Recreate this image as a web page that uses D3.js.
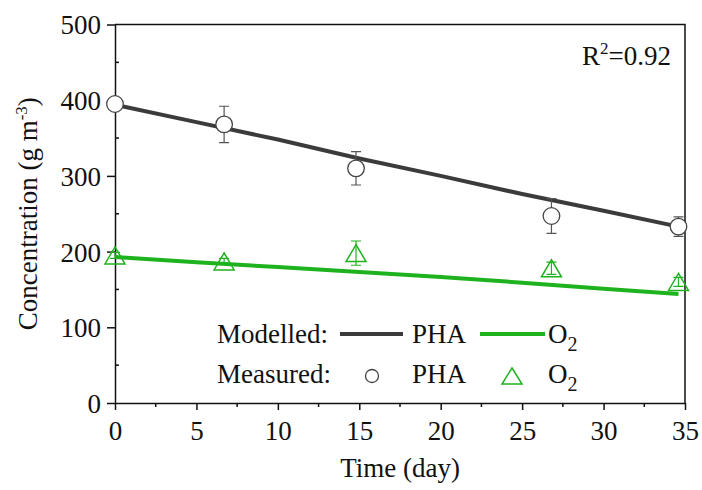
<!DOCTYPE html>
<html>
<head>
<meta charset="utf-8">
<script src="https://cdn.jsdelivr.net/npm/d3@7"></script>
<style>
  body { margin: 0; background: #fff; }
  text { font-family: "Liberation Serif", "Times New Roman", serif; fill: #111; }
</style>
</head>
<body>
<div id="chart"></div>
<script>
// Measured points (day, value, error)
const days = [0, 6.7, 14.8, 26.8, 34.6];
const phaMeasured = [395, 368, 310, 247, 233];
const phaErr = [4, 24, 22, 23, 13];
const o2Measured = [195, 187, 198, 178, 160];
const o2Err = [4, 4, 16, 8, 6];

// Modelled curves
const modelDays = [0, 5, 10, 15, 20, 25, 30, 34.6];
const phaModel = [394, 371, 348, 323, 300, 276, 254, 233];
const o2Model = [193, 186, 179.5, 173, 166.5, 159, 151, 144];

// Ticks
const xTicks = [0, 5, 10, 15, 20, 25, 30, 35];
const yTicks = [0, 100, 200, 300, 400, 500];

const width = 702, height = 490;
const margin = { top: 24.5, right: 17, bottom: 87, left: 115 };
const green = '#1fb21f';
const dark = '#3b3b3b';

const svg = d3.select('#chart')
    .append('svg')
    .attr('width', width)
    .attr('height', height);

const x = d3.scaleLinear().domain([0, 35]).range([margin.left, width - margin.right]);
const y = d3.scaleLinear().domain([0, 500]).range([height - margin.bottom, margin.top]);

// frame (top and right)
svg.append('path')
    .attr('d', `M${x(0)},${y(500)}H${x(35)}V${y(0)}`)
    .attr('fill', 'none')
    .attr('stroke', '#111')
    .attr('stroke-width', 1.5);

// axes
const xAxis = svg.append('g')
    .attr('transform', `translate(0,${y(0)})`)
    .call(d3.axisBottom(x).tickValues(xTicks).tickSize(7).tickPadding(6).tickSizeOuter(0));
const yAxis = svg.append('g')
    .attr('transform', `translate(${x(0)},0)`)
    .call(d3.axisLeft(y).tickValues(yTicks).tickSize(8).tickPadding(6).tickSizeOuter(0));

[xAxis, yAxis].forEach(g => {
    g.select('.domain').attr('stroke', '#111').attr('stroke-width', 1.5);
    g.selectAll('.tick line').attr('stroke', '#111').attr('stroke-width', 1.5);
    g.selectAll('.tick text')
        .attr('font-family', '"Liberation Serif", serif')
        .attr('font-size', 27)
        .attr('fill', '#111');
});
xAxis.selectAll('.tick text').attr('dy', '0.9em');
yAxis.selectAll('.tick text').attr('dy', '0.35em');

// minor ticks
const xMinor = d3.range(2.5, 35, 5);
const yMinor = d3.range(50, 500, 100);
svg.selectAll('.xminor')
    .data(xMinor)
    .enter()
    .append('line')
    .attr('x1', d => x(d)).attr('x2', d => x(d))
    .attr('y1', y(0)).attr('y2', y(0) + 4)
    .attr('stroke', '#111').attr('stroke-width', 1.5);
svg.selectAll('.yminor')
    .data(yMinor)
    .enter()
    .append('line')
    .attr('x1', x(0)).attr('x2', x(0) + 4)
    .attr('y1', d => y(d)).attr('y2', d => y(d))
    .attr('stroke', '#111').attr('stroke-width', 1.5);

// axis titles
svg.append('text')
    .attr('x', (x(0) + x(35)) / 2)
    .attr('y', 477)
    .attr('text-anchor', 'middle')
    .attr('font-size', 27)
    .text('Time (day)');

const yTitle = svg.append('text')
    .attr('transform', `translate(37,${(y(0) + y(500)) / 2}) rotate(-90)`)
    .attr('text-anchor', 'middle')
    .attr('font-size', 27);
yTitle.append('tspan').text('Concentration (g m');
yTitle.append('tspan').attr('font-size', 17).attr('dy', -10).text('-3');
yTitle.append('tspan').attr('dy', 10).text(')');

// model lines
const line = d3.line().x(d => x(d[0])).y(d => y(d[1]));
svg.append('path')
    .datum(modelDays.map((d, i) => [d, phaModel[i]]))
    .attr('d', line)
    .attr('fill', 'none')
    .attr('stroke', dark)
    .attr('stroke-width', 4);
svg.append('path')
    .datum(modelDays.map((d, i) => [d, o2Model[i]]))
    .attr('d', line)
    .attr('fill', 'none')
    .attr('stroke', green)
    .attr('stroke-width', 4);

// error bars
function errorBars(vals, errs, color) {
    const g = svg.append('g').attr('stroke', color).attr('stroke-width', 1.2).attr('fill', 'none');
    days.forEach((d, i) => {
        const cx = x(d), top = y(vals[i] + errs[i]), bot = y(vals[i] - errs[i]);
        g.append('path').attr('d', `M${cx},${top}V${bot}M${cx - 5},${top}H${cx + 5}M${cx - 5},${bot}H${cx + 5}`);
    });
}
errorBars(phaMeasured, phaErr, '#555');

// measured PHA circles
svg.selectAll('.pha')
    .data(days)
    .enter()
    .append('circle')
    .attr('cx', d => x(d))
    .attr('cy', (d, i) => y(phaMeasured[i]))
    .attr('r', 8.3)
    .attr('fill', '#fff')
    .attr('stroke', '#444')
    .attr('stroke-width', 1.3);

// measured O2 triangles
const tri = (w, h) => `M0,${-h / 2}L${w / 2},${h / 2}L${-w / 2},${h / 2}Z`;
errorBars(o2Measured, o2Err, green);
svg.selectAll('.o2')
    .data(days)
    .enter()
    .append('path')
    .attr('d', tri(20, 17))
    .attr('transform', (d, i) => `translate(${x(d)},${y(o2Measured[i])})`)
    .attr('fill', 'none')
    .attr('stroke', green)
    .attr('stroke-width', 1.5);

// R^2 annotation
const r2 = svg.append('text')
    .attr('x', 671)
    .attr('y', 65)
    .attr('text-anchor', 'end')
    .attr('font-size', 27);
r2.append('tspan').text('R');
r2.append('tspan').attr('font-size', 17).attr('dy', -11).text('2');
r2.append('tspan').attr('dy', 11).text('=0.92');

// legend
const legend = svg.append('g');
legend.append('text').attr('x', 217).attr('y', 343).attr('font-size', 27).text('Modelled:');
legend.append('text').attr('x', 217).attr('y', 383).attr('font-size', 27).text('Measured:');
legend.append('line').attr('x1', 340).attr('x2', 403).attr('y1', 334).attr('y2', 334)
    .attr('stroke', dark).attr('stroke-width', 4);
legend.append('line').attr('x1', 480).attr('x2', 545).attr('y1', 334).attr('y2', 334)
    .attr('stroke', green).attr('stroke-width', 4);
legend.append('circle').attr('cx', 372).attr('cy', 376).attr('r', 6.5)
    .attr('fill', '#fff').attr('stroke', '#444').attr('stroke-width', 1.3);
legend.append('path').attr('d', tri(20, 16)).attr('transform', 'translate(512,376)')
    .attr('fill', 'none').attr('stroke', green).attr('stroke-width', 1.5);
[343, 383].forEach(yy => {
    legend.append('text').attr('x', 412).attr('y', yy).attr('font-size', 27).text('PHA');
    const t = legend.append('text').attr('x', 548).attr('y', yy).attr('font-size', 27);
    t.append('tspan').text('O');
    t.append('tspan').attr('font-size', 20).attr('dy', 8).text('2');
});
</script>
</body>
</html>
